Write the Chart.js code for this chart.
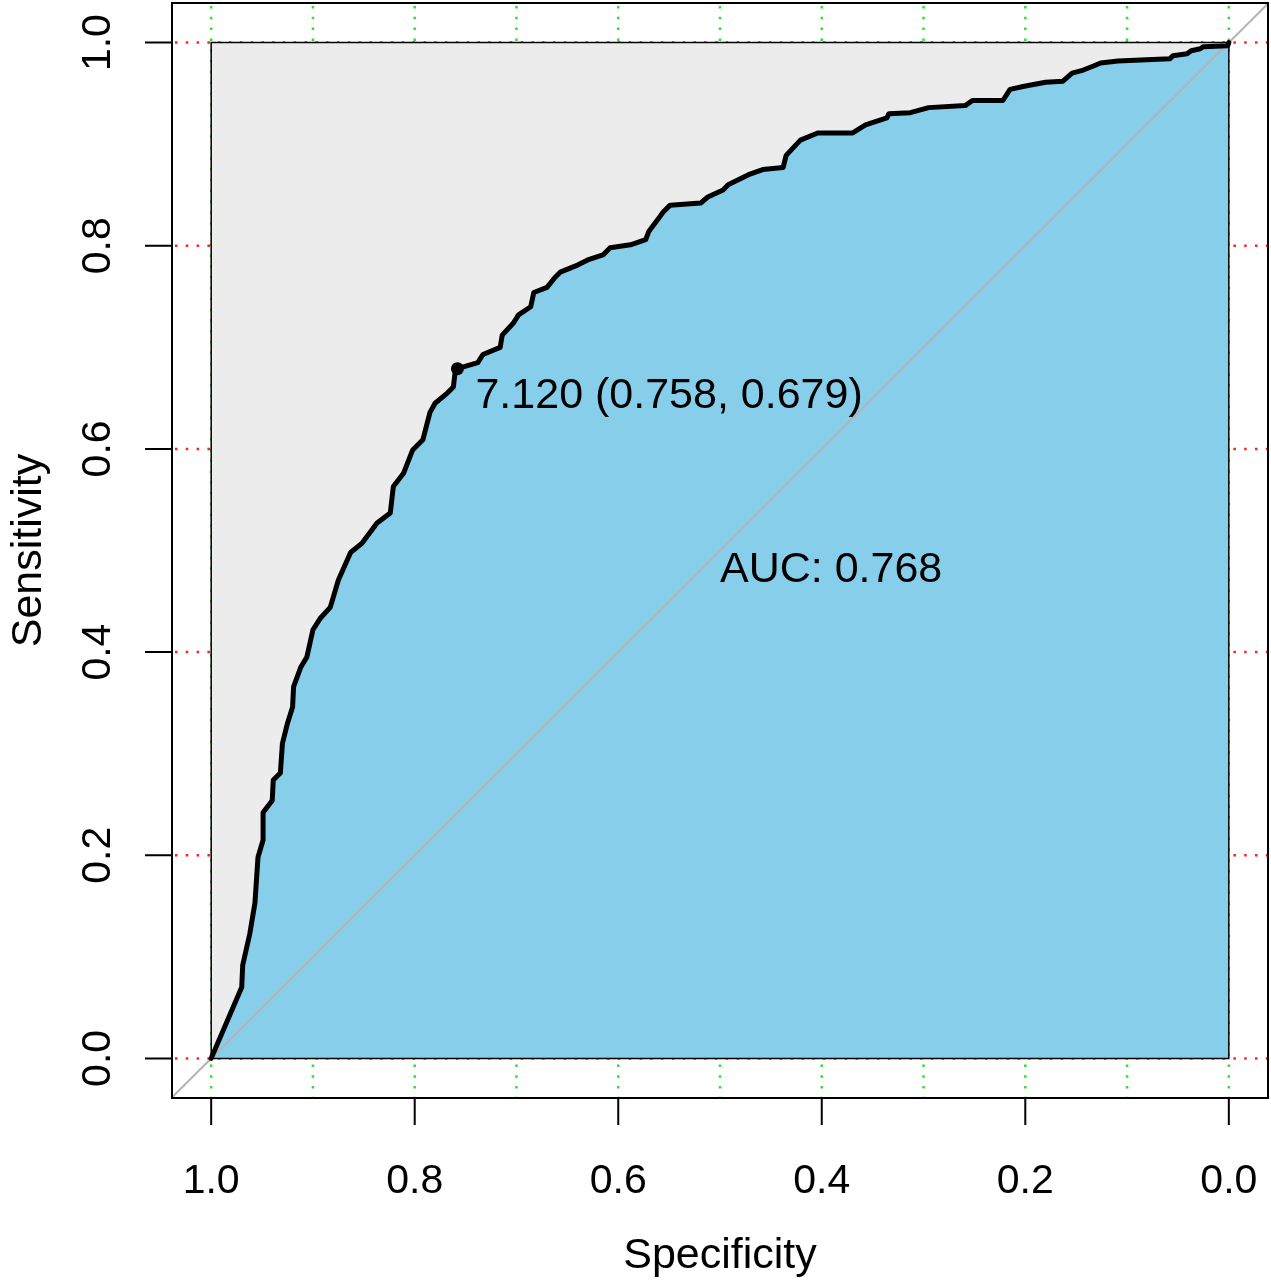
<!DOCTYPE html>
<html>
<head>
<meta charset="utf-8">
<title>ROC curve</title>
<script src="https://cdn.jsdelivr.net/npm/chart.js@4.4.1/dist/chart.umd.min.js"></script>
<style>
  body { margin: 0; background: #ffffff; }
  #wrap { width: 1271px; height: 1280px; position: relative; }
</style>
</head>
<body>
<div id="wrap"><canvas id="rocChart"></canvas></div>
<script>
// ROC curve (specificity goes 1 -> 0)
const specificity = [
  1.000, 0.970, 0.969, 0.962, 0.957, 0.954, 0.949, 0.949, 0.940, 0.939,
  0.932, 0.930, 0.925, 0.920, 0.919, 0.912, 0.906, 0.900, 0.893, 0.883,
  0.875, 0.863, 0.852, 0.837, 0.824, 0.821, 0.811, 0.802, 0.792, 0.785,
  0.780, 0.768, 0.762, 0.760, 0.758, 0.738, 0.733, 0.716, 0.714, 0.703,
  0.698, 0.686, 0.683, 0.670, 0.662, 0.657, 0.640, 0.630, 0.615, 0.608,
  0.588, 0.573, 0.570, 0.561, 0.556, 0.549, 0.519, 0.512, 0.497, 0.492,
  0.472, 0.458, 0.438, 0.435, 0.421, 0.404, 0.370, 0.357, 0.336, 0.334,
  0.313, 0.295, 0.259, 0.252, 0.222, 0.215, 0.201, 0.180, 0.163, 0.154,
  0.143, 0.133, 0.126, 0.109, 0.058, 0.055, 0.041, 0.037, 0.028, 0.025,
  0.001, 0.000
];
const sensitivity = [
  0.000, 0.070, 0.092, 0.123, 0.153, 0.198, 0.215, 0.242, 0.254, 0.274,
  0.281, 0.310, 0.330, 0.346, 0.366, 0.385, 0.395, 0.422, 0.433, 0.444,
  0.471, 0.498, 0.507, 0.527, 0.537, 0.563, 0.576, 0.599, 0.609, 0.636,
  0.645, 0.655, 0.661, 0.678, 0.679, 0.685, 0.693, 0.700, 0.712, 0.724,
  0.732, 0.740, 0.754, 0.759, 0.769, 0.774, 0.781, 0.786, 0.791, 0.798,
  0.801, 0.806, 0.814, 0.826, 0.833, 0.840, 0.842, 0.848, 0.855, 0.860,
  0.870, 0.875, 0.877, 0.889, 0.904, 0.911, 0.911, 0.919, 0.926, 0.930,
  0.931, 0.936, 0.938, 0.943, 0.943, 0.954, 0.957, 0.961, 0.962, 0.970,
  0.973, 0.977, 0.980, 0.982, 0.984, 0.987, 0.989, 0.992, 0.994, 0.996,
  0.997, 1.000
];

// best threshold and AUC
const bestThreshold = 7.120;
const bestSpec = 0.758;
const bestSens = 0.679;
const aucValue = 0.768;

// ticks and grid
const xTicks = [1.0, 0.8, 0.6, 0.4, 0.2, 0.0];
const yTicks = [0.0, 0.2, 0.4, 0.6, 0.8, 1.0];
const xGrid = [1.0, 0.9, 0.8, 0.7, 0.6, 0.5, 0.4, 0.3, 0.2, 0.1, 0.0];
const yGrid = [0.0, 0.2, 0.4, 0.6, 0.8, 1.0];

const TICK_FONT = '41px "Liberation Sans", Arial, Helvetica, sans-serif';
const TEXT_FONT = '43px "Liberation Sans", Arial, Helvetica, sans-serif';

const curve = specificity.map((s, i) => ({ x: s, y: sensitivity[i] }));

// grid, axes, box and text drawn with the chart scales
const rocDecor = {
  id: 'rocDecor',
  beforeDatasetsDraw(chart) {
    const { ctx, chartArea: a, scales: { x, y } } = chart;
    ctx.save();
    ctx.lineWidth = 2.5;
    ctx.setLineDash([2.5, 8.3]);
    ctx.lineDashOffset = -3;
    ctx.strokeStyle = '#ff2020';
    yGrid.forEach(v => {
      const py = y.getPixelForValue(v);
      ctx.beginPath(); ctx.moveTo(a.left, py); ctx.lineTo(a.right, py); ctx.stroke();
    });
    ctx.strokeStyle = '#30e030';
    xGrid.forEach(v => {
      const px = x.getPixelForValue(v);
      ctx.beginPath(); ctx.moveTo(px, a.top); ctx.lineTo(px, a.bottom); ctx.stroke();
    });
    ctx.restore();
  },
  afterDatasetsDraw(chart) {
    const { ctx, chartArea: a, scales: { x, y } } = chart;
    ctx.save();
    ctx.fillStyle = '#000000';

    // threshold label and AUC
    ctx.font = TEXT_FONT;
    const bx = x.getPixelForValue(bestSpec);
    const by = y.getPixelForValue(bestSens);
    ctx.textAlign = 'left';
    ctx.textBaseline = 'alphabetic';
    ctx.fillText(bestThreshold.toFixed(3) + ' (' + bestSpec.toFixed(3) + ', ' + bestSens.toFixed(3) + ')', bx + 18, by + 39);
    ctx.fillText('AUC: ' + aucValue.toFixed(3), x.getPixelForValue(0.5), y.getPixelForValue(0.5) + 31);

    // box
    ctx.strokeStyle = '#000000';
    ctx.lineWidth = 2;
    ctx.strokeRect(a.left, a.top, a.right - a.left, a.bottom - a.top);

    // x axis
    ctx.font = TICK_FONT;
    ctx.beginPath();
    ctx.moveTo(x.getPixelForValue(xTicks[0]), a.bottom);
    ctx.lineTo(x.getPixelForValue(xTicks[xTicks.length - 1]), a.bottom);
    xTicks.forEach(v => {
      const px = x.getPixelForValue(v);
      ctx.moveTo(px, a.bottom); ctx.lineTo(px, a.bottom + 27);
    });
    ctx.stroke();
    ctx.textAlign = 'center';
    xTicks.forEach(v => {
      ctx.fillText(v.toFixed(1), x.getPixelForValue(v), a.bottom + 95);
    });
    ctx.font = TEXT_FONT;
    ctx.fillText('Specificity', (a.left + a.right) / 2, a.bottom + 170);

    // y axis
    ctx.font = TICK_FONT;
    ctx.beginPath();
    ctx.moveTo(a.left, y.getPixelForValue(yTicks[0]));
    ctx.lineTo(a.left, y.getPixelForValue(yTicks[yTicks.length - 1]));
    yTicks.forEach(v => {
      const py = y.getPixelForValue(v);
      ctx.moveTo(a.left, py); ctx.lineTo(a.left - 27, py);
    });
    ctx.stroke();
    yTicks.forEach(v => {
      ctx.save();
      ctx.translate(a.left - 62, y.getPixelForValue(v));
      ctx.rotate(-Math.PI / 2);
      ctx.fillText(v.toFixed(1), 0, 0);
      ctx.restore();
    });
    ctx.font = TEXT_FONT;
    ctx.save();
    ctx.translate(41, (a.top + a.bottom) / 2);
    ctx.rotate(-Math.PI / 2);
    ctx.fillText('Sensitivity', 0, 0);
    ctx.restore();

    ctx.restore();
  }
};

const data = {
  datasets: [
    {
      // grey square behind the curve
      data: [{ x: 1, y: 1 }, { x: 0, y: 1 }],
      fill: 'origin',
      backgroundColor: '#ececec',
      borderWidth: 0,
      pointRadius: 0,
      order: 6
    },
    {
      // area under the curve
      data: curve,
      fill: 'origin',
      backgroundColor: '#87ceeb',
      borderWidth: 0,
      pointRadius: 0,
      order: 5
    },
    {
      // outline of the square
      data: [{ x: 1, y: 0 }, { x: 1, y: 1 }, { x: 0, y: 1 }, { x: 0, y: 0 }, { x: 1, y: 0 }],
      fill: false,
      borderColor: '#000000',
      borderWidth: 1.5,
      pointRadius: 0,
      order: 4
    },
    {
      // chance line
      data: [{ x: 1.1, y: -0.1 }, { x: -0.1, y: 1.1 }],
      fill: false,
      borderColor: '#b4b4b4',
      borderWidth: 2,
      pointRadius: 0,
      order: 3
    },
    {
      // ROC curve
      data: curve,
      fill: false,
      borderColor: '#000000',
      borderWidth: 5,
      borderJoinStyle: 'round',
      borderCapStyle: 'round',
      pointRadius: 0,
      order: 2
    },
    {
      // best threshold
      data: [{ x: bestSpec, y: bestSens }],
      showLine: false,
      pointRadius: 6.5,
      pointBackgroundColor: '#000000',
      pointBorderWidth: 0,
      order: 1
    }
  ]
};

const config = {
  type: 'line',
  data: data,
  options: {
    responsive: true,
    maintainAspectRatio: false,
    animation: false,
    layout: {
      autoPadding: false,
      padding: { left: 172, top: 3, right: 3, bottom: 182 }
    },
    plugins: {
      legend: { display: false },
      tooltip: { enabled: false }
    },
    elements: {
      line: { tension: 0 }
    },
    scales: {
      x: { type: 'linear', reverse: true, min: -0.0385, max: 1.0385, display: false },
      y: { type: 'linear', min: -0.039, max: 1.039, display: false }
    }
  },
  plugins: [rocDecor]
};

const rocChart = new Chart(document.getElementById('rocChart'), config);
</script>
</body>
</html>
